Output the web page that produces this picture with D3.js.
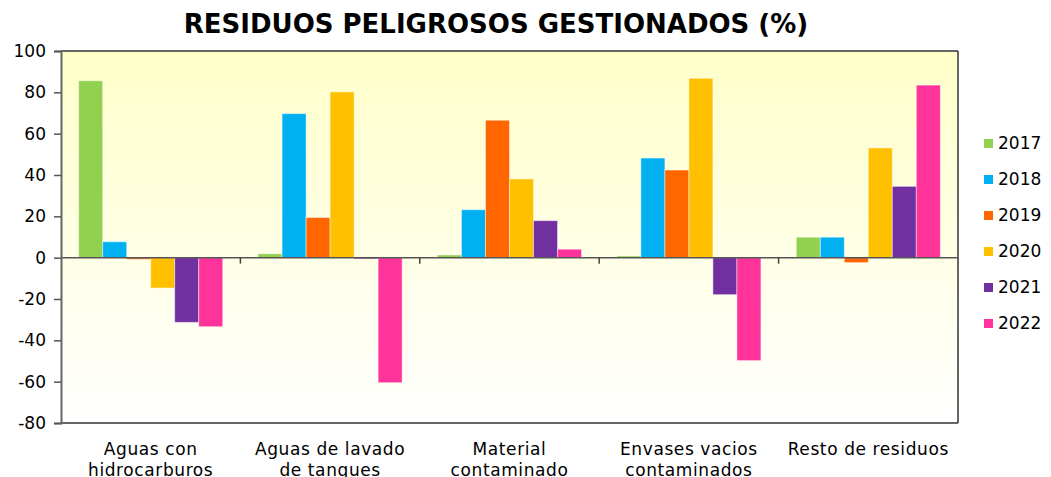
<!DOCTYPE html>
<html>
<head>
<meta charset="utf-8">
<script src="https://cdn.jsdelivr.net/npm/d3@7"></script>
<style>
  body { margin: 0; background: #fff; }
  text { font-family: "DejaVu Sans", Verdana, sans-serif; fill: #000; }
</style>
</head>
<body>
<svg width="1051" height="477"></svg>
<script>
// data
var categories = ["Aguas con|hidrocarburos", "Aguas de lavado|de tanques", "Material|contaminado", "Envases vacios|contaminados", "Resto de residuos"]
var years = ["2017", "2018", "2019", "2020", "2021", "2022"]
var colors = ["#92D050", "#00B0F0", "#FF6600", "#FFC000", "#7030A0", "#FF3399"]
var v2017 = [85.6, 1.9, 1.3, 0.8, 9.9]
var v2018 = [7.7, 69.7, 23.2, 48.2, 9.9]
var v2019 = [-0.8, 19.4, 66.5, 42.4, -2.4]
var v2020 = [-14.7, 80.2, 38.1, 86.8, 53.1]
var v2021 = [-31.3, -0.6, 17.9, -17.9, 34.5]
var v2022 = [-33.4, -60.5, 4.1, -49.8, 83.5]
var yTicks = [100, 80, 60, 40, 20, 0, -20, -40, -60, -80]

var series = [v2017, v2018, v2019, v2020, v2021, v2022]

var svg = d3.select("svg"),
    margin = {top: 51, left: 61, right: 93, bottom: 54},
    width = +svg.attr("width") - margin.left - margin.right,
    height = +svg.attr("height") - margin.top - margin.bottom

// background gradient
var defs = svg.append("defs")
var grad = defs.append("linearGradient").attr("id", "bg").attr("x1", 0).attr("y1", 0).attr("x2", 0).attr("y2", 1)
grad.append("stop").attr("offset", "0%").attr("stop-color", "#FFFFC9")
grad.append("stop").attr("offset", "100%").attr("stop-color", "#FFFFFF")

var g = svg.append("g").attr("transform", "translate(" + margin.left + "," + margin.top + ")")

var x0 = d3.scaleBand().domain(categories).range([0, width]).paddingInner(0.197).paddingOuter(0.0985)
var x1 = d3.scaleBand().domain(years).range([0, x0.bandwidth()])
var y = d3.scaleLinear().domain([-80, 100]).range([height, 0])
var color = d3.scaleOrdinal().domain(years).range(colors)

g.append("rect").attr("width", width).attr("height", height).attr("fill", "url(#bg)")

// bars
var groups = g.selectAll(".grp")
  .data(categories)
  .enter().append("g")
    .attr("class", "grp")
    .attr("transform", function(d) { return "translate(" + x0(d) + ",0)" })

groups.selectAll("rect")
  .data(function(d, i) { return years.map(function(yr, j) { return {year: yr, value: series[j][i]} }) })
  .enter().append("rect")
    .attr("x", function(d) { return x1(d.year) })
    .attr("width", x1.bandwidth())
    .attr("y", function(d) { return y(Math.max(0, d.value)) })
    .attr("height", function(d) { return Math.abs(y(d.value) - y(0)) })
    .attr("fill", function(d) { return color(d.year) })
    .attr("stroke", "rgba(255,255,255,0.45)")
    .attr("stroke-width", 1)

// frame: top, right and bottom dark
g.append("line").attr("x1", 0).attr("x2", width).attr("y1", 0).attr("y2", 0).attr("stroke", "#333").attr("stroke-width", 1.5)
g.append("line").attr("x1", width).attr("x2", width).attr("y1", 0).attr("y2", height).attr("stroke", "#333").attr("stroke-width", 1.5)
g.append("line").attr("x1", 0).attr("x2", width).attr("y1", height).attr("y2", height).attr("stroke", "#333").attr("stroke-width", 1.5)

// zero line with category separators
g.append("line").attr("x1", 0).attr("x2", width).attr("y1", y(0)).attr("y2", y(0)).attr("stroke", "#555").attr("stroke-width", 1.5)
g.selectAll(".sep")
  .data(categories.slice(1))
  .enter().append("line")
    .attr("class", "sep")
    .attr("x1", function(d) { return x0(d) - x0.step() * x0.paddingInner() / 2 })
    .attr("x2", function(d) { return x0(d) - x0.step() * x0.paddingInner() / 2 })
    .attr("y1", y(0)).attr("y2", y(0) + 6)
    .attr("stroke", "#444").attr("stroke-width", 1.5)

// y axis (plain hyphen for negatives, like the reference)
var yAxis = g.append("g")
  .call(d3.axisLeft(y).tickValues(yTicks).tickSize(7).tickPadding(8).tickFormat(function(d) { return String(d) }))
yAxis.select(".domain").attr("stroke", "#666").attr("stroke-width", 2)
yAxis.selectAll(".tick line").attr("stroke", "#555").attr("stroke-width", 1.5)
yAxis.selectAll("text").style("font-size", "17px").attr("fill", "#000")

// category labels
g.selectAll(".cat")
  .data(categories)
  .enter().append("text")
    .attr("class", "cat")
    .attr("text-anchor", "middle")
    .attr("x", function(d) { return x0(d) + x0.bandwidth() / 2 })
    .attr("y", height + 32)
    .style("font-size", "17px")
    .style("letter-spacing", "0.6px")
    .selectAll("tspan")
    .data(function(d) { return d.split("|") })
    .enter().append("tspan")
      .attr("x", function() { var p = this.parentNode.__data__; return x0(p) + x0.bandwidth() / 2 })
      .attr("dy", function(d, i) { return i ? 21 : 0 })
      .text(function(d) { return d })

// title
svg.append("text")
  .attr("x", 496).attr("y", 33)
  .attr("text-anchor", "middle")
  .style("font-size", "26px").style("font-weight", "bold")
  .text("RESIDUOS PELIGROSOS GESTIONADOS (%)")

// legend
var legend = svg.selectAll(".leg")
  .data(years)
  .enter().append("g")
    .attr("class", "leg")
    .attr("transform", function(d, i) { return "translate(984," + (143 + i * 36) + ")" })
legend.append("rect").attr("x", 0).attr("y", -4).attr("width", 9).attr("height", 9)
  .attr("fill", function(d) { return color(d) })
legend.append("text").attr("x", 14).attr("y", 6).style("font-size", "17px").text(function(d) { return d })
</script>
</body>
</html>
